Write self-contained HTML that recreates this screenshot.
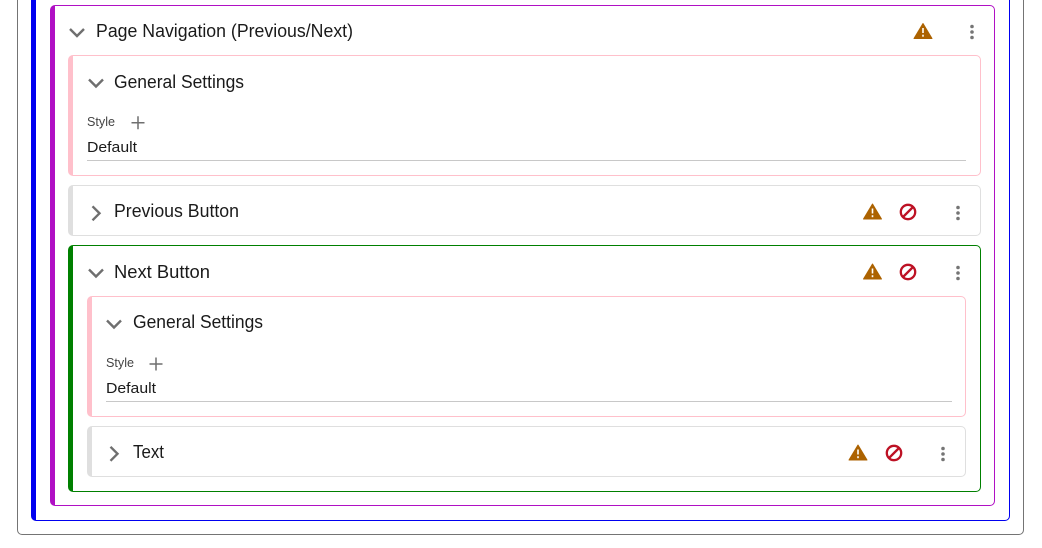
<!DOCTYPE html>
<html>
<head>
<meta charset="utf-8">
<style>
html,body{margin:0;padding:0;background:#fff;}
#p{position:relative;width:1042px;height:548px;overflow:hidden;background:#fff;font-family:"Liberation Sans",sans-serif;color:#1a1a1a;}
.b{position:absolute;box-sizing:border-box;border-style:solid;background:#fff;}
svg{position:absolute;left:0;top:0;}
text{font-family:"Liberation Sans",sans-serif;fill:#1a1a1a;}
</style>
</head>
<body>
<div id="p">
<div class="b" style="left:17px;top:-20px;width:1007px;height:555px;border:1px solid #747474;border-radius:5px;"></div>
<div class="b" style="left:31px;top:-20px;width:979px;height:541px;border-width:1px 1px 1px 5px;border-color:#0000f0;border-radius:5px;"></div>
<div class="b" style="left:50px;top:5px;width:945px;height:501px;border-width:1px 1px 1px 5px;border-color:#b010c4;border-radius:5px;"></div>
<div class="b" style="left:68px;top:55px;width:913px;height:121px;border-width:1px 1px 1px 5px;border-color:#ffc0cb;border-radius:5px;"></div>
<div class="b" style="left:68px;top:185px;width:913px;height:51px;border-width:1px 1px 1px 5px;border-color:#dfdfdf;border-radius:5px;"></div>
<div class="b" style="left:68px;top:245px;width:913px;height:247px;border-width:1px 1px 1px 5px;border-color:#008000;border-radius:5px;"></div>
<div class="b" style="left:87px;top:296px;width:879px;height:121px;border-width:1px 1px 1px 5px;border-color:#ffc0cb;border-radius:5px;"></div>
<div class="b" style="left:87px;top:426px;width:879px;height:51px;border-width:1px 1px 1px 5px;border-color:#dfdfdf;border-radius:5px;"></div>
<div style="position:absolute;left:87px;top:160px;width:879px;height:1px;background:#c8c8c8;"></div>
<div style="position:absolute;left:106px;top:401px;width:846px;height:1px;background:#c8c8c8;"></div>
<svg width="1042" height="548" viewBox="0 0 1042 548">
<defs>
<g id="w"><path d="M0 7.500 L9 -7.500 L18 7.500 Z" fill="#ac6200" stroke="#ac6200" stroke-width="1" stroke-linejoin="round"/><rect x="8.200" y="-3" width="1.600" height="5" fill="#fff"/><rect x="8.200" y="3.700" width="1.600" height="2" fill="#fff"/></g>
<g id="n"><circle cx="0" cy="0" r="7.200" fill="none" stroke="#bd1124" stroke-width="2.300"/><path d="M-5 5 L5 -5" stroke="#bd1124" stroke-width="2.300"/></g>
<g id="d" fill="#757575"><circle cx="0" cy="-5.500" r="1.800"/><circle cx="0" cy="0" r="1.800"/><circle cx="0" cy="5.500" r="1.800"/></g>
<path id="cd" d="M-7 -3.500 L0 3.500 L7 -3.500" fill="none" stroke="#6f6f6f" stroke-width="2.400"/>
<path id="cr" d="M-3.500 -7 L3.500 0 L-3.500 7" fill="none" stroke="#6f6f6f" stroke-width="2.400"/>
<path id="pl" d="M-6.500 0 H6.500 M0 -6.500 V6.500" fill="none" stroke="#6f6f6f" stroke-width="1.500"/>
</defs>

<use href="#cd" x="77" y="32.500"/>
<text x="96" y="37" font-size="18" textLength="257" lengthAdjust="spacingAndGlyphs">Page Navigation (Previous/Next)</text>
<use href="#w" x="914" y="31"/>
<use href="#d" x="972" y="32"/>

<use href="#cd" x="96" y="83"/>
<text x="114" y="88" font-size="18" textLength="130" lengthAdjust="spacingAndGlyphs">General Settings</text>
<text x="87" y="126" font-size="13" style="fill:#444" textLength="28" lengthAdjust="spacingAndGlyphs">Style</text>
<use href="#pl" x="138" y="122.700"/>
<text x="87" y="152" font-size="15" textLength="50" lengthAdjust="spacingAndGlyphs">Default</text>

<use href="#cr" x="96" y="213.300"/>
<text x="114" y="217" font-size="18" textLength="125" lengthAdjust="spacingAndGlyphs">Previous Button</text>
<use href="#w" x="863.500" y="211.500"/>
<use href="#n" x="908" y="212"/>
<use href="#d" x="958" y="213"/>

<use href="#cd" x="96" y="273"/>
<text x="114" y="278" font-size="18" textLength="96" lengthAdjust="spacingAndGlyphs">Next Button</text>
<use href="#w" x="863.500" y="271.500"/>
<use href="#n" x="908" y="272"/>
<use href="#d" x="958" y="273"/>

<use href="#cd" x="114" y="324"/>
<text x="133" y="328" font-size="18" textLength="130" lengthAdjust="spacingAndGlyphs">General Settings</text>
<text x="106" y="367" font-size="13" style="fill:#444" textLength="28" lengthAdjust="spacingAndGlyphs">Style</text>
<use href="#pl" x="156" y="364"/>
<text x="106" y="393" font-size="15" textLength="50" lengthAdjust="spacingAndGlyphs">Default</text>

<use href="#cr" x="114" y="453.800"/>
<text x="133" y="458" font-size="18" textLength="31" lengthAdjust="spacingAndGlyphs">Text</text>
<use href="#w" x="849" y="452.500"/>
<use href="#n" x="894" y="453"/>
<use href="#d" x="943" y="454"/>
</svg>
</div>
</body>
</html>
